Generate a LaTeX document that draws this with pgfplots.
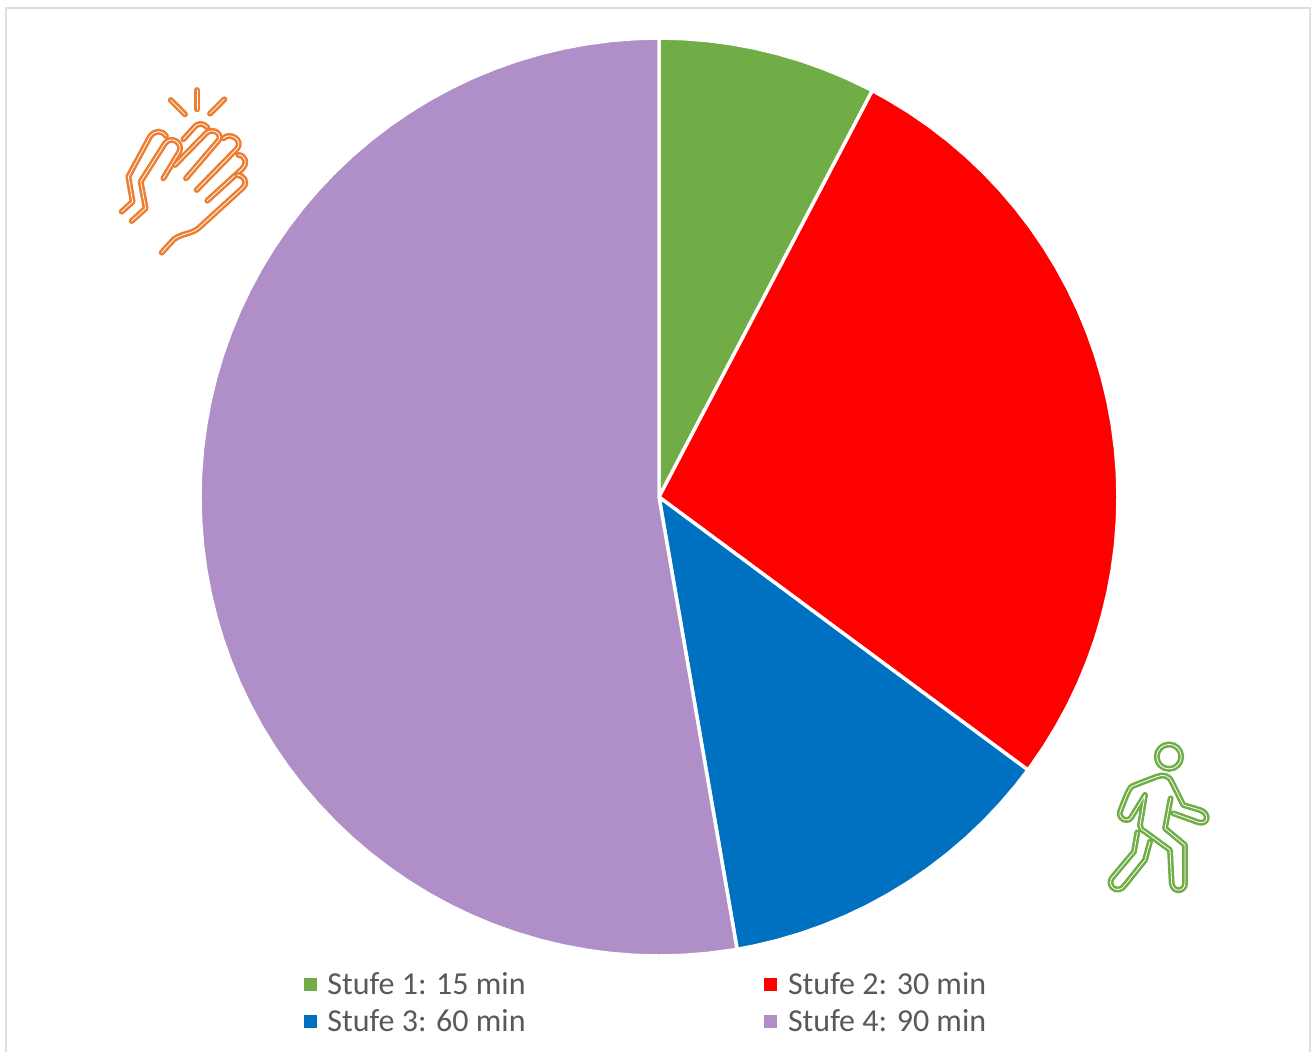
\documentclass[border=0pt]{standalone}
\usepackage{pgfplots}
\pgfplotsset{compat=1.18}
\usepgfplotslibrary{polar}
\usepackage{fontspec}
\setmainfont{Carlito}
\definecolor{cA}{HTML}{70AD47}
\definecolor{cB}{HTML}{FF0000}
\definecolor{cC}{HTML}{0070C0}
\definecolor{cD}{HTML}{B08FC9}
\definecolor{iO}{HTML}{ED7D31}
\begin{document}
\begin{tikzpicture}[x=0.75pt,y=-0.75pt]
\path[use as bounding box] (0,0) rectangle (1311,1052);
\draw[color=black!13,line width=1.5pt] (6,1060) -- (6,8) -- (1310,8) -- (1310,1060);
\coordinate (c) at (659,497);
\begin{polaraxis}[
  at={(c)},anchor=center,scale only axis,width=688.5pt,height=688.5pt,
  xmin=0,xmax=360,ymin=0,ymax=1,hide axis,clip=false,
  legend columns=2,
  legend cell align=left,
  legend style={at={(0.113,-0.0155)},anchor=north west,draw=none,fill=none,
    font=\fontsize{24pt}{28pt}\selectfont\color{black!65},
    inner sep=0pt,outer sep=0pt,row sep=5.75pt,
    /tikz/every odd column/.append style={column sep=6pt},
    /tikz/every even column/.append style={column sep=177pt}},
  legend image code/.code={\fill[#1,draw=none] (0pt,-4.8pt) rectangle (9.8pt,5pt);},
]
\addplot[fill=cA,draw=white,line width=2.6pt,line join=round,forget plot] coordinates {(0,0)(90,1)(87,1)(84,1)(81,1)(78,1)(75,1)(72,1)(69,1)(66,1)(63,1)(62.3,1)} -- cycle;
\addplot[fill=cB,draw=white,line width=2.6pt,line join=round,forget plot] coordinates {(0,0)(62.3,1)(60,1)(57,1)(54,1)(51,1)(48,1)(45,1)(42,1)(39,1)(36,1)(33,1)(30,1)(27,1)(24,1)(21,1)(18,1)(15,1)(12,1)(9,1)(6,1)(3,1)(0,1)(357,1)(354,1)(351,1)(348,1)(345,1)(342,1)(339,1)(336,1)(333,1)(330,1)(327,1)(324,1)(323.5,1)} -- cycle;
\addplot[fill=cC,draw=white,line width=2.6pt,line join=round,forget plot] coordinates {(0,0)(323.5,1)(321,1)(318,1)(315,1)(312,1)(309,1)(306,1)(303,1)(300,1)(297,1)(294,1)(291,1)(288,1)(285,1)(282,1)(279.8,1)} -- cycle;
\addplot[fill=cD,draw=white,line width=2.6pt,line join=round,forget plot] coordinates {(0,0)(279.8,1)(279,1)(276,1)(273,1)(270,1)(267,1)(264,1)(261,1)(258,1)(255,1)(252,1)(249,1)(246,1)(243,1)(240,1)(237,1)(234,1)(231,1)(228,1)(225,1)(222,1)(219,1)(216,1)(213,1)(210,1)(207,1)(204,1)(201,1)(198,1)(195,1)(192,1)(189,1)(186,1)(183,1)(180,1)(177,1)(174,1)(171,1)(168,1)(165,1)(162,1)(159,1)(156,1)(153,1)(150,1)(147,1)(144,1)(141,1)(138,1)(135,1)(132,1)(129,1)(126,1)(123,1)(120,1)(117,1)(114,1)(111,1)(108,1)(105,1)(102,1)(99,1)(96,1)(93,1)(90,1)} -- cycle;
\addlegendimage{cA}\addlegendentry{Stufe 1: 15 min}
\addlegendimage{cB}\addlegendentry{Stufe 2: 30 min}
\addlegendimage{cC}\addlegendentry{Stufe 3: 60 min}
\addlegendimage{cD}\addlegendentry{Stufe 4: 90 min}
\end{polaraxis}
% clapping hands icon (zoomed pixel coordinates)
\begin{scope}[shift={(100,80)},x=0.25pt,y=-0.25pt,
  every path/.style={draw=iO,double=white,double distance=0.6pt,line width=1.9pt,line cap=round,line join=round}]
\path (212,60) -- (255,103);
\path (291,30) -- (291,88);
\path (373,58) -- (330,101);
\path (65,395) -- (98,365) -- (85,290) -- (150,170) .. controls (165,150) and (185,150) .. (198,168);
\path (190,295) -- (238,215) .. controls (250,190) and (215,165) .. (195,190) -- (122,305) -- (137,385) -- (95,423);
\path (250,178) -- (280,145) .. controls (295,125) and (310,130) .. (322,142);
\path (225,255) -- (318,160) .. controls (340,140) and (370,165) .. (355,182) -- (258,295);
\path (370,175) .. controls (390,155) and (430,180) .. (412,205) -- (290,330);
\path (415,225) .. controls (435,225) and (445,250) .. (425,268) -- (322,362);
\path (412,285) .. controls (430,285) and (445,305) .. (430,322) -- (295,445) .. controls (270,465) and (235,460) .. (215,485) -- (185,518);
\end{scope}
% walking person icon
\begin{scope}[shift={(1100,735)},x=0.25pt,y=-0.25pt,
  every path/.style={draw=cA,double=white,double distance=0.6pt,line width=1.9pt,line cap=round,line join=round}]
\path (207,65) circle [radius=9.2pt];
\path (220,235) -- (295,262) .. controls (325,270) and (330,235) .. (300,225) -- (250,210) -- (215,140) .. controls (205,120) and (190,118) .. (170,125) -- (100,152) .. controls (90,155) and (85,165) .. (60,230) .. controls (55,255) and (85,265) .. (95,245) -- (135,180) -- (120,270) .. controls (120,280) and (125,285) .. (135,290) -- (210,345) -- (215,445) .. controls (220,475) and (255,470) .. (255,445) -- (255,330) -- (195,280) -- (212,190);
\path (112,292) -- (102,350) -- (35,430) .. controls (20,455) and (55,480) .. (75,450) -- (135,375) -- (150,320);
\end{scope}
\end{tikzpicture}
\end{document}
